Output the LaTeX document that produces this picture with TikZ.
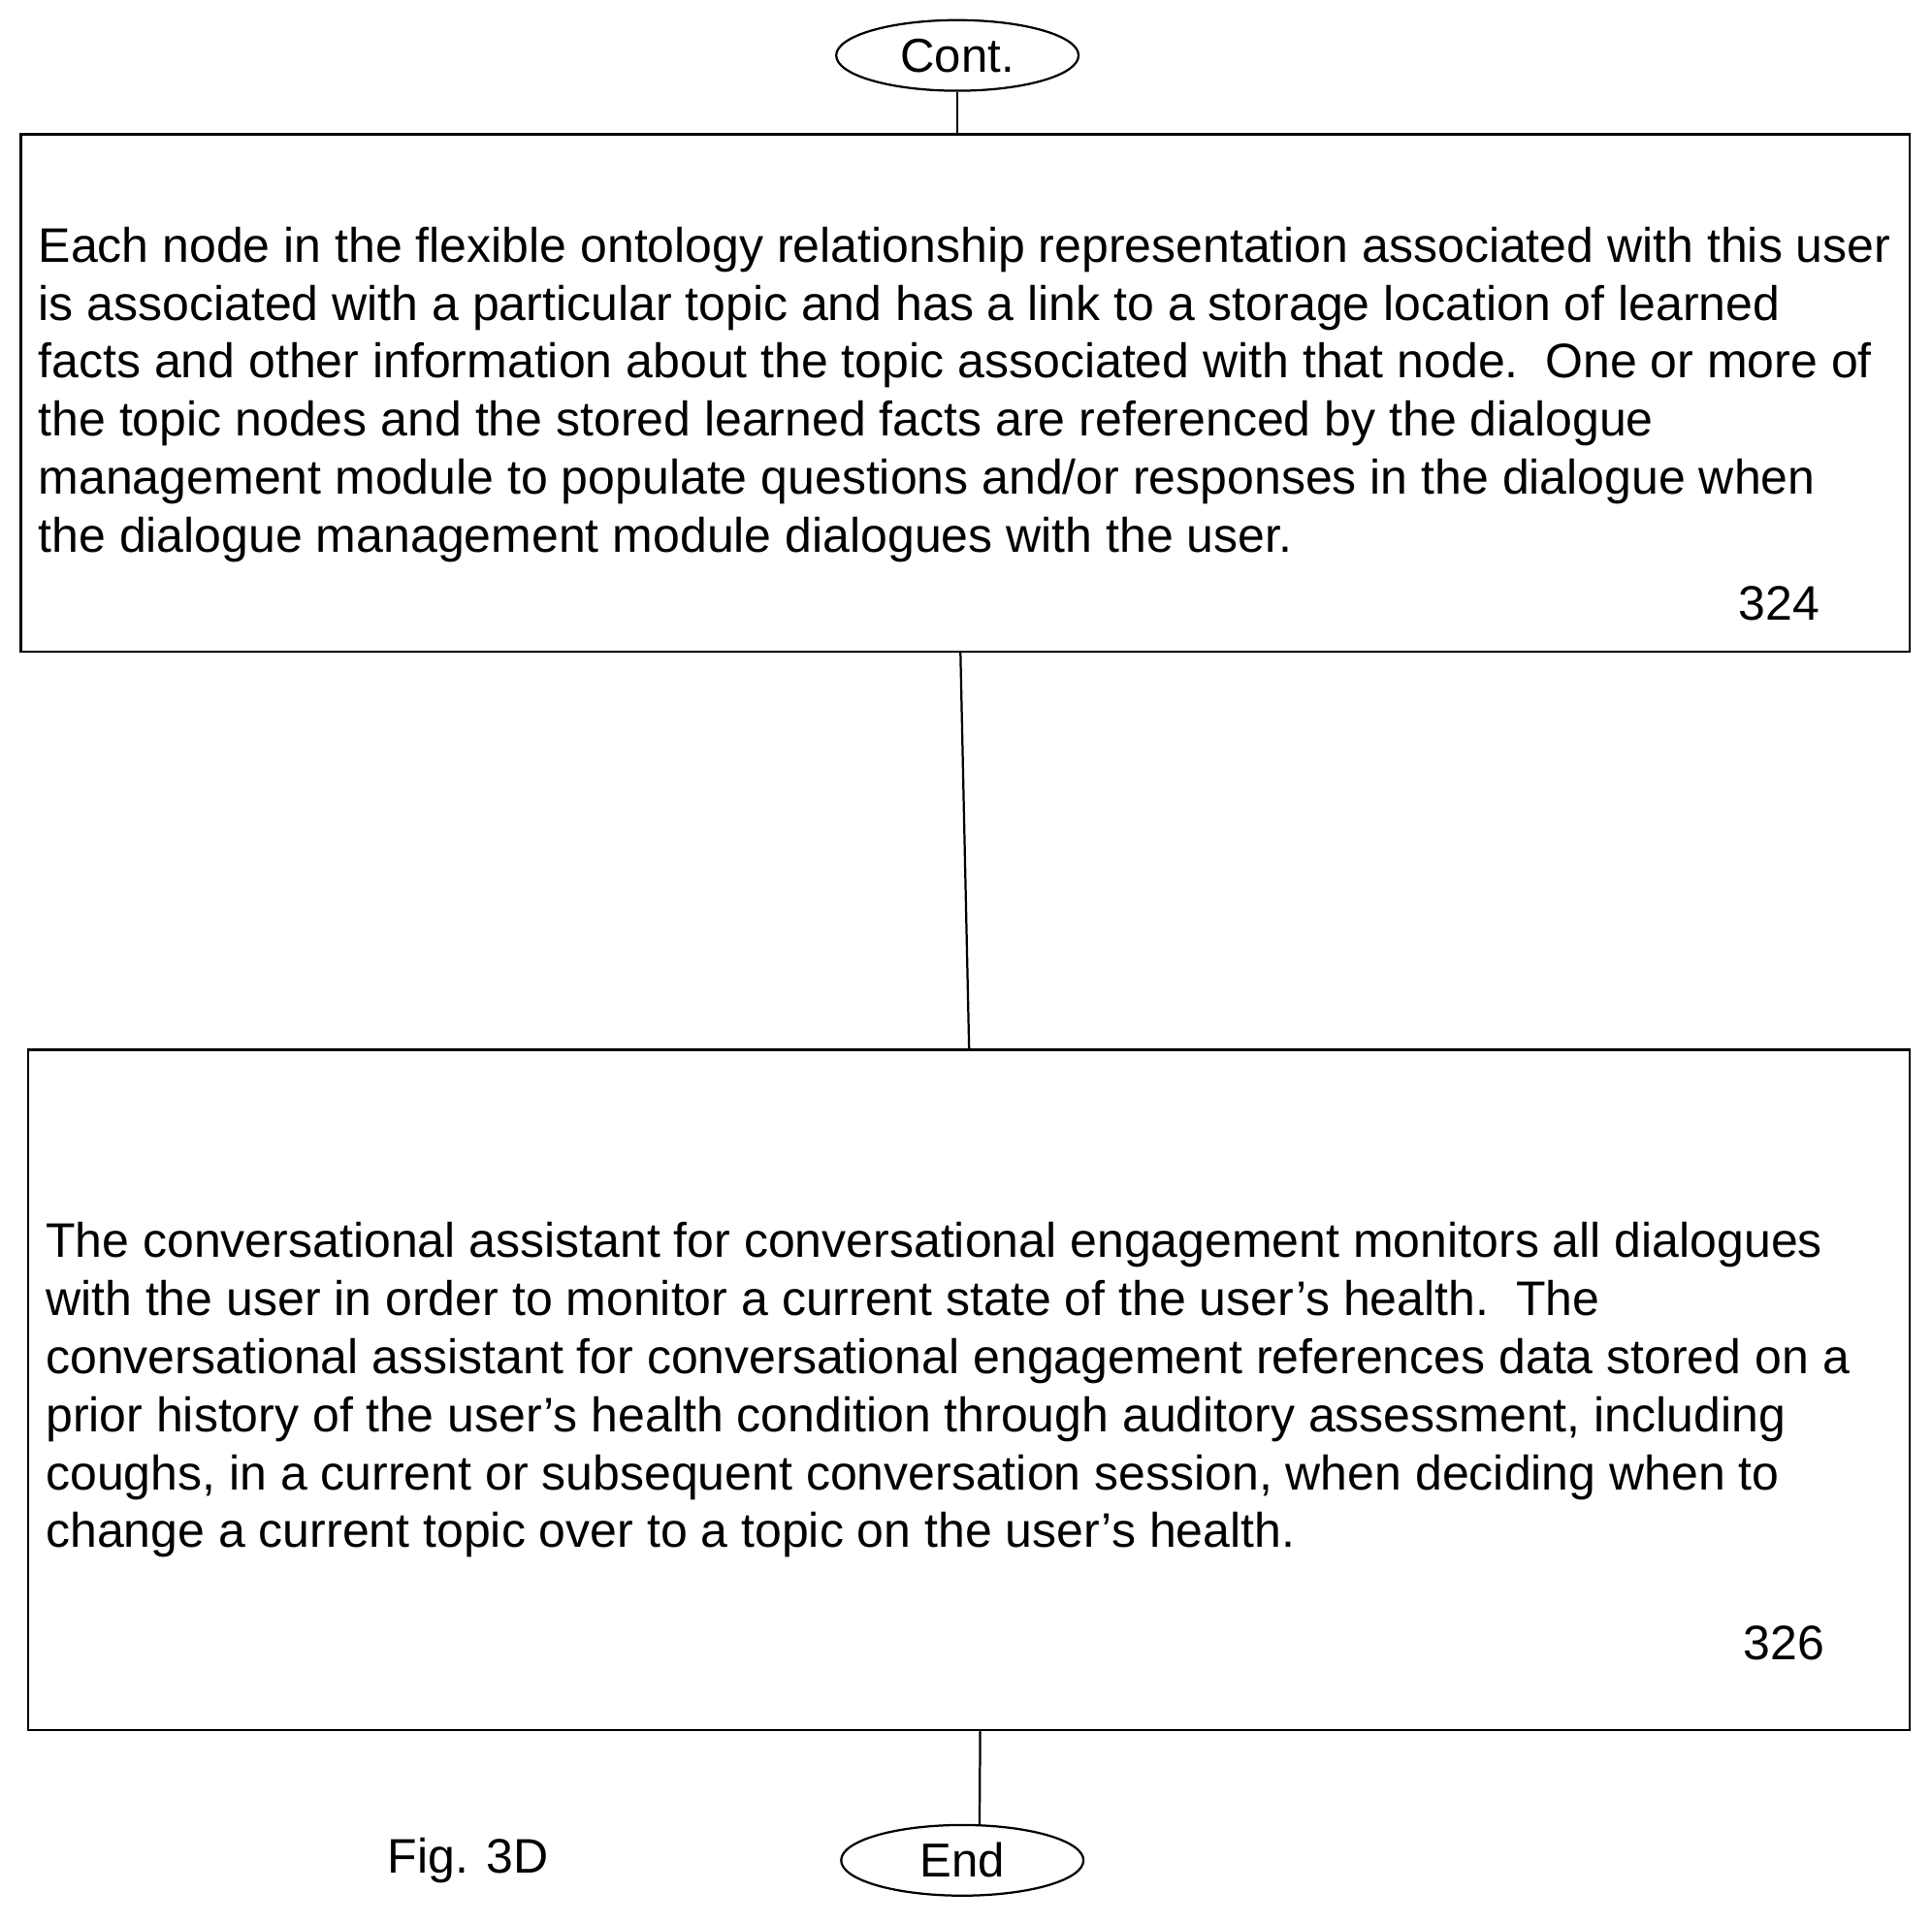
\documentclass[tikz,border=0pt]{standalone}
\usepackage{fontspec}
\setmainfont{Liberation Sans}
\usetikzlibrary{shapes.geometric}
\usetikzlibrary{positioning}
\tikzset{
  term/.style={draw, ellipse, line width=1.5pt, minimum width=5.9cm, minimum height=1.72cm, inner sep=0pt, font=\fontsize{33}{38}\selectfont},
  procbox/.style={draw, rectangle, line width=1.5pt, inner sep=0pt},
  body/.style={align=left, inner sep=0pt, font=\fontsize{33.6}{40.2}\selectfont},
  flow/.style={line width=1.5pt}
}
\begin{document}
\begin{tikzpicture}[x=0.03cm, y=-0.03cm]
            \useasboundingbox (0,0) rectangle (1568,1561);
            % terminals
            \node[term] (cont) at (777,45) {Cont.};
            \node[term] (end) at (781,1510) {End};
            % process boxes
            \node[procbox, minimum width=45.99cm, minimum height=12.6cm] (s324) at (783.5,319) {};
            \node[procbox, minimum width=45.81cm, minimum height=16.56cm] (s326) at (786.5,1128) {};
            \node[body, anchor=north west] (t324) at (31,184) {Each node in the flexible ontology relationship representation associated with this user\\is associated with a particular topic and has a link to a storage location of learned\\facts and other information about the topic associated with that node.\ \ One or more of\\the topic nodes and the stored learned facts are referenced by the dialogue\\management module to populate questions and/or responses in the dialogue when\\the dialogue management module dialogues with the user.};
            \node[body, anchor=north west] (t326) at (37,992) {The conversational assistant for conversational engagement monitors all dialogues\\with the user in order to monitor a current state of the user’s health.\ \ The\\conversational assistant for conversational engagement references data stored on a\\prior history of the user’s health condition through auditory assessment, including\\coughs, in a current or subsequent conversation session, when deciding when to\\change a current topic over to a topic on the user’s health.};
            \node[body] (n324) at (1444,490) {324};
            \node[body] (n326) at (1448,1334) {326};
            \node[body] (fig) at (380,1510) {Fig. 3D};
            % connectors
            \draw[flow] (cont) -- (cont |- s324.north);
            \draw[flow] ([xshift=-4*0.03cm]s324.south) -- (s326.north);
            \draw[flow] ([xshift=9*0.03cm]s326.south) -- ([xshift=14*0.03cm]end.north);
        \end{tikzpicture}
\end{document}
